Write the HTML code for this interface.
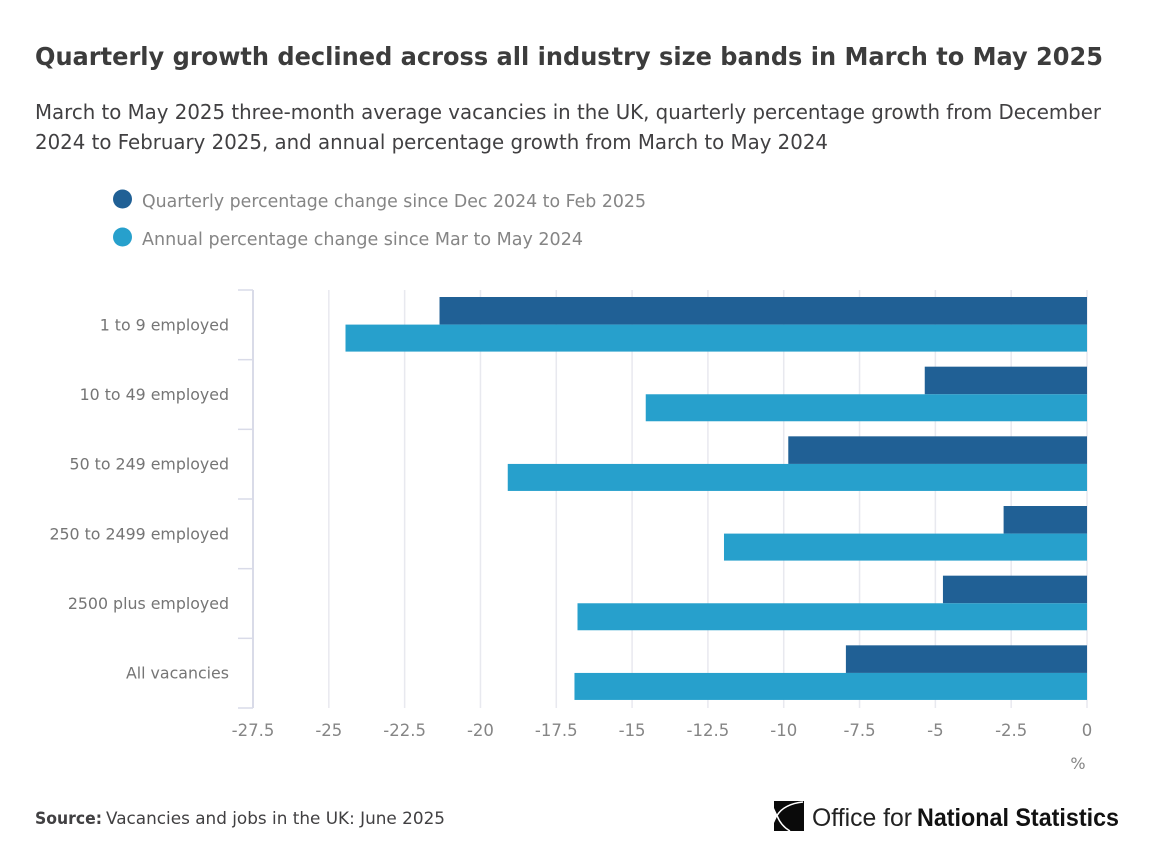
<!DOCTYPE html>
<html lang="en">
<head>
<meta charset="utf-8">
<title>Quarterly growth declined across all industry size bands</title>
<style>
html,body{margin:0;padding:0;background:#fff;}
body{width:1153px;height:862px;overflow:hidden;}
svg{display:block;}
text{font-family:"DejaVu Sans","Liberation Sans",sans-serif;}
</style>
</head>
<body>
<svg id="chart" width="1153" height="862" viewBox="0 0 1153 862" xmlns="http://www.w3.org/2000/svg">
  <rect x="0" y="0" width="1153" height="862" fill="#fff"/>
  <text x="35" y="65" font-size="25" font-weight="700" fill="#3c3c3c" textLength="1068" lengthAdjust="spacingAndGlyphs">Quarterly growth declined across all industry size bands in March to May 2025</text>
  <text x="35" y="119" font-size="20.5" fill="#414042" textLength="1066" lengthAdjust="spacingAndGlyphs">March to May 2025 three-month average vacancies in the UK, quarterly percentage growth from December</text>
  <text x="35" y="149" font-size="20.5" fill="#414042" textLength="793" lengthAdjust="spacingAndGlyphs">2024 to February 2025, and annual percentage growth from March to May 2024</text>

  <g>
    <g>
      <circle cx="122.500" cy="199" r="9.500" fill="#206095"/>
      <text x="142" y="207" font-size="18" fill="#858585" textLength="504" lengthAdjust="spacingAndGlyphs">Quarterly percentage change since Dec 2024 to Feb 2025</text>
    </g>
    <g>
      <circle cx="122.500" cy="237" r="9.500" fill="#27a0cc"/>
      <text x="142" y="245" font-size="18" fill="#858585" textLength="441" lengthAdjust="spacingAndGlyphs">Annual percentage change since Mar to May 2024</text>
    </g>
  </g>

  <g id="grid"></g>
  <g id="bars"></g>
  <g id="yaxis"></g>
  <g id="xaxis"></g>
  <text x="1078" y="769" font-size="16" fill="#858585" text-anchor="middle">%</text>

  <text x="35" y="824" font-size="17" font-weight="700" fill="#414042" textLength="67" lengthAdjust="spacingAndGlyphs">Source:</text>
  <text x="106" y="824" font-size="17" fill="#414042" textLength="339" lengthAdjust="spacingAndGlyphs">Vacancies and jobs in the UK: June 2025</text>

  <g>
    <path d="M774 801H804V831H774Z" fill="#0a0a0a"/>
    <path d="M774 808L777.500 815.500L774 823Z" fill="#fff"/>
    <path d="M803 802Q784 804 777 815.500Q781 826 790 831" fill="none" stroke="#fff" stroke-width="1.500"/>
    <text x="812" y="826" font-size="25" fill="#222" style="font-family:'Liberation Sans',sans-serif" textLength="100" lengthAdjust="spacingAndGlyphs">Office for</text>
    <text x="917" y="826" font-size="25" font-weight="700" fill="#111" style="font-family:'Liberation Sans',sans-serif" textLength="202" lengthAdjust="spacingAndGlyphs">National Statistics</text>
  </g>
</svg>
<script>
const categories = ['1 to 9 employed', '10 to 49 employed', '50 to 249 employed', '250 to 2499 employed', '2500 plus employed', 'All vacancies'];
const quarterlyValues = [-21.35, -5.35, -9.85, -2.75, -4.75, -7.95];
const annualValues = [-24.45, -14.55, -19.1, -11.97, -16.8, -16.9];
const tickValues = [-27.5, -25, -22.5, -20, -17.5, -15, -12.5, -10, -7.5, -5, -2.5, 0];

const NS = 'http://www.w3.org/2000/svg';
const plot = { left: 253, right: 1087, top: 290, bottom: 708 };
const domainMin = tickValues[0];
const domainMax = tickValues[tickValues.length - 1];
const bandHeight = (plot.bottom - plot.top) / categories.length;

function xScale(v) {
  return plot.left + (v - domainMin) / (domainMax - domainMin) * (plot.right - plot.left);
}
function bandTop(i) {
  return plot.top + i * bandHeight;
}

function make(tag, attrs, parent) {
  const el = document.createElementNS(NS, tag);
  Object.keys(attrs).forEach(function (k) { el.setAttribute(k, attrs[k]); });
  parent.appendChild(el);
  return el;
}

const grid = document.getElementById('grid');
const bars = document.getElementById('bars');
const yaxis = document.getElementById('yaxis');
const xaxis = document.getElementById('xaxis');

tickValues.forEach(function (t) {
  const x = xScale(t);
  const line = make('line', { x1: x, x2: x, y1: plot.top, y2: plot.bottom, stroke: '#e8e9ef', 'stroke-width': 1.5 }, grid);
  
  
  const label = make('text', { x: x, y: 736, 'font-size': 16.5, fill: '#858585', 'text-anchor': 'middle' }, xaxis);
  
  
  label.textContent = String(t);
});

categories.forEach(function (cat, i) {
  const top = bandTop(i);
  const qBar = make('rect', {
    x: xScale(quarterlyValues[i]), y: top + 7,
    width: xScale(0) - xScale(quarterlyValues[i]), height: 27.6, fill: '#206095'
  }, bars);
  
  
  const aBar = make('rect', {
    x: xScale(annualValues[i]), y: top + 34.6,
    width: xScale(0) - xScale(annualValues[i]), height: 27, fill: '#27a0cc'
  }, bars);
  
  
  const label = make('text', { x: 229, y: top + 40.4, 'font-size': 15.8, fill: '#757575', 'text-anchor': 'end' }, yaxis);
  
  
  label.textContent = cat;
});

const axisLine = make('line', { x1: plot.left, x2: plot.left, y1: plot.top, y2: plot.bottom, stroke: '#d9dbe8', 'stroke-width': 2 }, yaxis);


for (let i = 0; i <= categories.length; i++) {
  const y = bandTop(i);
  const tick = make('line', { x1: plot.left - 15, x2: plot.left, y1: y, y2: y, stroke: '#d9dbe8', 'stroke-width': 1.5 }, yaxis);
  
  
}
</script>
</body>
</html>
